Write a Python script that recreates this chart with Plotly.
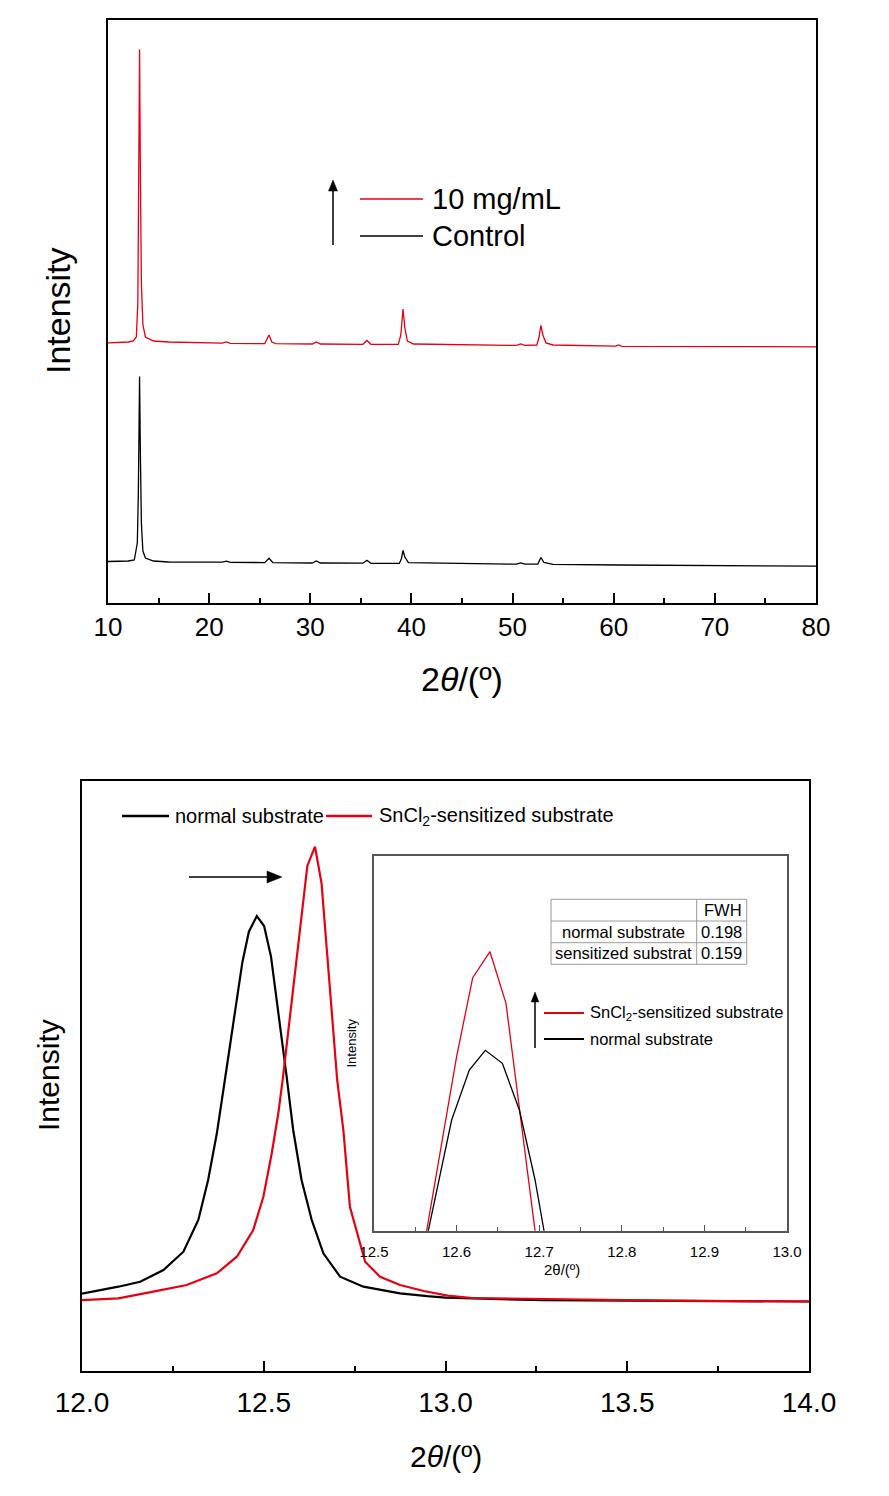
import plotly.graph_objects as go

W, H = 889, 1496
OFF = 8  # page body margin offset of the rendered figure
FONT = "Liberation Sans, Arial, sans-serif"
RED = "#e60012"

# ---------------- data: top panel (full XRD pattern) ----------------
top_red_x = [10.0, 11.0, 12.0, 12.5, 12.8, 12.95, 13.05, 13.12, 13.2, 13.3, 13.45, 13.7, 14.5, 16.0,
             21.3, 21.7, 22.1, 25.5, 25.92, 26.2, 26.6, 30.2, 30.6, 31.0, 35.2, 35.6, 36.0,
             38.7, 38.95, 39.17, 39.35, 39.6, 40.2, 45.0, 50.4, 50.8, 51.2, 52.4, 52.6, 52.8,
             53.0, 53.3, 54.0, 60.2, 60.5, 60.8, 68.0, 80.0]
top_red_y = [260.2, 260.5, 261, 262, 266, 300, 450, 553.6, 430, 320, 278, 266, 262, 261,
             259.8, 261, 259.6, 259.4, 268, 261, 259.3, 259, 261, 259, 258.7, 262.5, 258.7,
             258.6, 268, 294, 275, 262, 259, 258.1, 257.6, 259, 257.6, 258, 265, 277.6,
             268, 260, 258, 256.8, 258, 256.7, 256.5, 256.2]

top_blk_x = [10.0, 12.0, 12.6, 12.9, 13.0, 13.12, 13.2, 13.3, 13.45, 13.7, 14.5, 16.0,
             21.3, 21.7, 22.1, 25.5, 25.92, 26.3, 30.2, 30.6, 31.0, 35.2, 35.6, 36.0,
             38.8, 39.0, 39.17, 39.35, 39.7, 45.0, 50.4, 50.8, 51.2, 52.5, 52.8, 53.1,
             54.0, 60.5, 68.0, 80.0]
top_blk_y = [41.5, 42, 43, 60, 110, 226.6, 150, 80, 52, 45, 42, 41,
             40.8, 41.8, 40.7, 40.4, 44.7, 40.4, 40, 42, 40, 39.8, 42.8, 39.7,
             39.6, 44, 52.6, 46, 40.3, 39.2, 38.8, 40, 38.8, 38.9, 45.5, 40.5,
             38.7, 38, 37.5, 36.8]

top_labels = ["10 mg/mL", "Control"]

# ---------------- data: bottom panel (zoom on main peak) ----------------
bot_blk_x = [12.0, 12.05, 12.1, 12.16, 12.224, 12.279, 12.32, 12.347, 12.371, 12.393, 12.441,
             12.459, 12.481, 12.501, 12.52, 12.563, 12.581, 12.604, 12.632, 12.664, 12.71,
             12.774, 12.875, 12.95, 13.0, 13.27, 13.6, 14.0]
bot_blk_y = [77, 80.5, 84, 89, 100.7, 119, 150.7, 190.7, 237.4, 290.7, 408,
             439, 454.7, 444.7, 414, 294, 240.7, 190.7, 150.7, 117.4, 94,
             84, 77.4, 74.5, 73, 70.5, 69.8, 69.2]

bot_red_x = [12.0, 12.1, 12.196, 12.288, 12.371, 12.426, 12.471, 12.499, 12.522, 12.54, 12.552,
             12.62, 12.641, 12.659, 12.702, 12.719, 12.737, 12.779, 12.82, 12.875, 12.94,
             13.006, 13.073, 13.273, 13.6, 14.0]
bot_red_y = [70.5, 72.4, 79, 85.7, 97.4, 114, 140.7, 174, 217.4, 257.4, 290.7,
             505, 524, 487.4, 290.7, 240.7, 164, 109, 94, 85.7, 79.7,
             75, 72.7, 71.4, 70, 69.2]

bot_labels = ["normal substrate", "SnCl<sub>2</sub>-sensitized substrate"]

# ---------------- data: inset ----------------
ins_red_x = [12.555, 12.600, 12.6195, 12.6404, 12.6598, 12.705]
ins_red_y = [-42, 174, 253, 279, 227.4, -65]
ins_blk_x = [12.555, 12.594, 12.6154, 12.6348, 12.6554, 12.676, 12.695, 12.715]
ins_blk_y = [-42, 110.7, 160.7, 180.4, 167.4, 120.7, 50.7, -43]

table_rows = ["", "normal substrate", "sensitized substrat"]
table_vals = ["FWH", "0.198", "0.159"]


def px(x):
    return (x - OFF) / W


def py(y):
    return 1 - (y - OFF) / H


fig = go.Figure()
fig.add_trace(go.Scatter(x=top_red_x, y=top_red_y, mode="lines", line=dict(color=RED, width=1.3),
                         xaxis="x", yaxis="y", showlegend=False))
fig.add_trace(go.Scatter(x=top_blk_x, y=top_blk_y, mode="lines", line=dict(color="black", width=1.3),
                         xaxis="x", yaxis="y", showlegend=False))
fig.add_trace(go.Scatter(x=bot_blk_x, y=bot_blk_y, mode="lines", line=dict(color="black", width=2.2),
                         xaxis="x2", yaxis="y2", showlegend=False))
fig.add_trace(go.Scatter(x=bot_red_x, y=bot_red_y, mode="lines", line=dict(color=RED, width=2.2),
                         xaxis="x2", yaxis="y2", showlegend=False))
fig.add_trace(go.Scatter(x=ins_red_x, y=ins_red_y, mode="lines", line=dict(color=RED, width=1.3),
                         xaxis="x3", yaxis="y3", showlegend=False))
fig.add_trace(go.Scatter(x=ins_blk_x, y=ins_blk_y, mode="lines", line=dict(color="black", width=1.3),
                         xaxis="x3", yaxis="y3", showlegend=False))

axis_common = dict(showline=True, mirror=True, showgrid=False, zeroline=False, automargin=False)

fig.update_layout(
    width=W, height=H, autosize=False,
    margin=dict(l=0, r=0, t=0, b=0, pad=0),
    paper_bgcolor="white", plot_bgcolor="white",
    font=dict(family=FONT, color="black"),
    xaxis=dict(**axis_common, domain=[px(108), px(816)], anchor="y", range=[10, 80],
               linecolor="black", linewidth=1.5, ticks="inside", ticklen=10, tickwidth=1.5,
               tickcolor="black", dtick=10, tick0=10,
               minor=dict(ticks="inside", ticklen=5, dtick=5, tickwidth=1.5, tickcolor="black"),
               tickfont=dict(size=26, family=FONT), ticklabelstandoff=0),
    yaxis=dict(**axis_common, domain=[py(603), py(20)], anchor="x", range=[0, 583],
               linecolor="black", linewidth=1.5, ticks="", showticklabels=False),
    xaxis2=dict(**axis_common, domain=[px(82), px(809)], anchor="y2", range=[12, 14],
                linecolor="black", linewidth=2, ticks="inside", ticklen=10, tickwidth=2,
                tickcolor="black", dtick=0.5, tick0=12, tickformat=".1f",
                minor=dict(ticks="inside", ticklen=5, dtick=0.25, tickwidth=2, tickcolor="black"),
                tickfont=dict(size=28, family=FONT), ticklabelstandoff=6),
    yaxis2=dict(**axis_common, domain=[py(1370.7), py(780.7)], anchor="x2", range=[0, 590],
                linecolor="black", linewidth=2, ticks="", showticklabels=False),
    xaxis3=dict(**axis_common, domain=[px(374), px(787)], anchor="y3", range=[12.5, 13.0],
                linecolor="#555555", linewidth=1.5, ticks="inside", ticklen=6, tickwidth=1.2,
                tickcolor="#555555", dtick=0.1, tick0=12.5, tickformat=".1f",
                minor=dict(ticks="inside", ticklen=4, dtick=0.05, tickwidth=1.2, tickcolor="#555555"),
                tickfont=dict(size=15, family=FONT), ticklabelstandoff=7),
    yaxis3=dict(**axis_common, domain=[py(1230.7), py(856)], anchor="x3", range=[0, 374.7],
                linecolor="#555555", linewidth=1.5, ticks="", showticklabels=False),
)

ann = []
shapes = []


def arrow(x0, y0, x1, y1, head_len, head_half, width=1.5):
    """Arrow from (x0,y0) to tip (x1,y1), page pixel coords; line + filled head."""
    import math
    dx, dy = x1 - x0, y1 - y0
    L = math.hypot(dx, dy)
    ux, uy = dx / L, dy / L
    bx, by = x1 - ux * head_len, y1 - uy * head_len
    shapes.append(dict(type="line", xref="paper", yref="paper",
                       x0=px(x0), y0=py(y0), x1=px(bx + ux * 2), y1=py(by + uy * 2),
                       line=dict(color="black", width=width)))
    nx, ny = -uy, ux
    p1 = (bx + nx * head_half, by + ny * head_half)
    p2 = (bx - nx * head_half, by - ny * head_half)
    path = "M {} {} L {} {} L {} {} Z".format(px(x1), py(y1), px(p1[0]), py(p1[1]), px(p2[0]), py(p2[1]))
    shapes.append(dict(type="path", xref="paper", yref="paper", path=path,
                       fillcolor="black", line=dict(color="black", width=0.5)))


# axis titles
ann.append(dict(text="2<i>θ</i>/(º)", x=px(462), y=py(679), xref="paper", yref="paper",
                showarrow=False, font=dict(size=34, family=FONT), xanchor="center", yanchor="middle"))
ann.append(dict(text="Intensity", x=px(58), y=py(311), xref="paper", yref="paper", textangle=-90,
                showarrow=False, font=dict(size=34, family=FONT), xanchor="center", yanchor="middle"))
ann.append(dict(text="2<i>θ</i>/(º)", x=px(445.5), y=py(1456), xref="paper", yref="paper",
                showarrow=False, font=dict(size=30, family=FONT), xanchor="center", yanchor="middle"))
ann.append(dict(text="Intensity", x=px(48), y=py(1075), xref="paper", yref="paper", textangle=-90,
                showarrow=False, font=dict(size=30, family=FONT), xanchor="center", yanchor="middle"))
ann.append(dict(text="2θ/(º)", x=px(562), y=py(1269), xref="paper", yref="paper",
                showarrow=False, font=dict(size=15, family=FONT), xanchor="center", yanchor="middle"))
ann.append(dict(text="Intensity", x=px(350.5), y=py(1043), xref="paper", yref="paper", textangle=-90,
                showarrow=False, font=dict(size=13, family=FONT), xanchor="center", yanchor="middle"))

# top legend
for yy, col, lab in [(199, RED, top_labels[0]), (236, "black", top_labels[1])]:
    shapes.append(dict(type="line", xref="paper", yref="paper", x0=px(360), x1=px(423), y0=py(yy), y1=py(yy),
                       line=dict(color=col, width=1.5)))
    ann.append(dict(text=lab, x=px(430), y=py(yy), xref="paper", yref="paper", showarrow=False,
                    font=dict(size=29, family=FONT), xanchor="left", yanchor="middle"))
arrow(333, 245, 333, 180, 11, 4.5)

# bottom legend
shapes.append(dict(type="line", xref="paper", yref="paper", x0=px(122), x1=px(169), y0=py(816), y1=py(816),
                   line=dict(color="black", width=2.5)))
ann.append(dict(text=bot_labels[0], x=px(173), y=py(816), xref="paper", yref="paper", showarrow=False,
                font=dict(size=20, family=FONT), xanchor="left", yanchor="middle"))
shapes.append(dict(type="line", xref="paper", yref="paper", x0=px(326), x1=px(372), y0=py(816), y1=py(816),
                   line=dict(color=RED, width=2.5)))
ann.append(dict(text=bot_labels[1], x=px(377), y=py(816), xref="paper", yref="paper", showarrow=False,
                font=dict(size=20, family=FONT), xanchor="left", yanchor="middle"))
arrow(189, 877, 282, 877, 15, 6)

# inset legend
shapes.append(dict(type="line", xref="paper", yref="paper", x0=px(544), x1=px(584), y0=py(1013), y1=py(1013),
                   line=dict(color=RED, width=2)))
ann.append(dict(text=bot_labels[1], x=px(588), y=py(1013), xref="paper", yref="paper", showarrow=False,
                font=dict(size=16.5, family=FONT), xanchor="left", yanchor="middle"))
shapes.append(dict(type="line", xref="paper", yref="paper", x0=px(544), x1=px(584), y0=py(1039), y1=py(1039),
                   line=dict(color="black", width=2)))
ann.append(dict(text=bot_labels[0], x=px(588), y=py(1039), xref="paper", yref="paper", showarrow=False,
                font=dict(size=16.5, family=FONT), xanchor="left", yanchor="middle"))
arrow(535, 1048, 535, 992, 10, 3.8)

# FWHM table
tl, tr, tc = 551, 746.7, 696.7
rows_y = [899.3, 921, 942.7, 964.3]
gray = "#9a9a9a"
for yy in rows_y:
    shapes.append(dict(type="line", xref="paper", yref="paper", x0=px(tl), x1=px(tr), y0=py(yy), y1=py(yy),
                       line=dict(color=gray, width=1)))
for xx in [tl, tc, tr]:
    shapes.append(dict(type="line", xref="paper", yref="paper", x0=px(xx), x1=px(xx), y0=py(rows_y[0]),
                       y1=py(rows_y[-1]), line=dict(color=gray, width=1)))
for i in range(3):
    yc = (rows_y[i] + rows_y[i + 1]) / 2
    if table_rows[i]:
        ann.append(dict(text=table_rows[i], x=px((tl + tc) / 2), y=py(yc), xref="paper", yref="paper",
                        showarrow=False, font=dict(size=16.5, family=FONT), xanchor="center", yanchor="middle"))
    ann.append(dict(text=table_vals[i], x=px(tr - 3), y=py(yc), xref="paper", yref="paper",
                    showarrow=False, font=dict(size=16.5, family=FONT), xanchor="right", yanchor="middle"))

fig.update_layout(annotations=ann, shapes=shapes)
fig.write_html("out.html")
